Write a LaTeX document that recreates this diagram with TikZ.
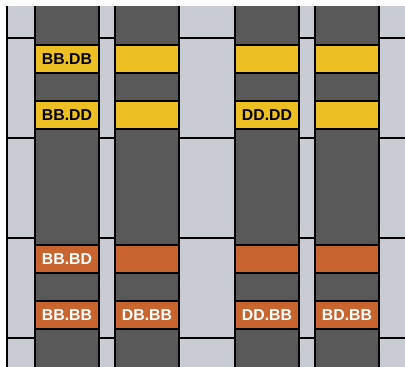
\documentclass[tikz,border=0pt]{standalone}
\usepackage{fontspec}
\setmainfont{Liberation Sans}
\definecolor{bgwhite}{HTML}{FFFFFF}
\definecolor{lgray}{HTML}{C9CCD3}
\definecolor{dgray}{HTML}{595959}
\definecolor{yel}{HTML}{ECBF23}
\definecolor{ora}{HTML}{C8642E}
\tikzset{
  colbox/.style={draw=black, line width=2pt, fill=dgray, minimum width=64pt, minimum height=380pt, inner sep=0pt},
  ybox/.style={draw=black, line width=2pt, fill=yel, minimum width=64pt, minimum height=28pt, inner sep=0pt, text=black, font=\fontsize{15.8}{16}\selectfont\bfseries},
  obox/.style={draw=black, line width=2pt, fill=ora, minimum width=64pt, minimum height=28pt, inner sep=0pt, text=white, font=\fontsize{15.8}{16}\selectfont\bfseries},
  gridline/.style={draw=black, line width=2pt}
}
\begin{document}
\begin{tikzpicture}[x=1pt,y=-1pt]
\useasboundingbox (0,0) rectangle (405,367);
\fill[bgwhite] (0,0) rectangle (405,367);
\fill[lgray] (7,6) rectangle (405,367);
\foreach \yy in {37.5,137.5,237.5,337.5} {
  \draw[gridline] (7,\yy) -- (405,\yy);
}
\draw[gridline] (7,6) -- (7,367);
\begin{scope}
\clip (0,6) rectangle (405,367);
\node[colbox] (c1) at (67,186) {};
\node[colbox] (c2) at (147,186) {};
\node[colbox] (c3) at (267,186) {};
\node[colbox] (c4) at (347,186) {};
\end{scope}
\node[ybox] (a1) at (67,59) {BB.DB};
\node[ybox] (a2) at (147,59) {};
\node[ybox] (a3) at (267,59) {};
\node[ybox] (a4) at (347,59) {};
\node[ybox] (b1) at (67,115) {BB.DD};
\node[ybox] (b2) at (147,115) {};
\node[ybox] (b3) at (267,115) {DD.DD};
\node[ybox] (b4) at (347,115) {};
\node[obox] (d1) at (67,259) {BB.BD};
\node[obox] (d2) at (147,259) {};
\node[obox] (d3) at (267,259) {};
\node[obox] (d4) at (347,259) {};
\node[obox] (e1) at (67,315) {BB.BB};
\node[obox] (e2) at (147,315) {DB.BB};
\node[obox] (e3) at (267,315) {DD.BB};
\node[obox] (e4) at (347,315) {BD.BB};
\end{tikzpicture}
\end{document}
